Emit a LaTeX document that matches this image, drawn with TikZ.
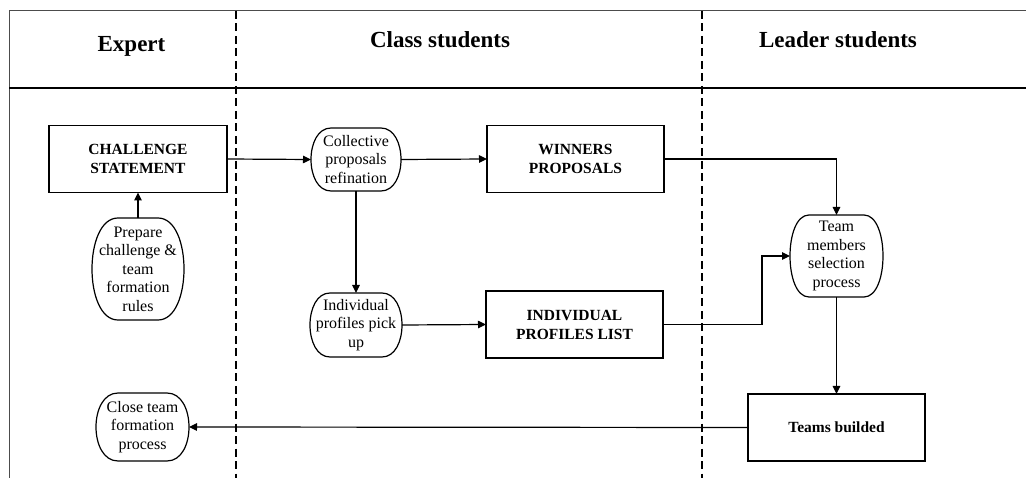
\documentclass[tikz,border=0pt]{standalone}
\usepackage{fontspec}
\setmainfont{Liberation Serif}
\usetikzlibrary{arrows.meta,calc}
\tikzset{
  frame/.style={line width=1pt, draw=black!70},
  headline/.style={line width=1.8pt},
  lane/.style={line width=1.3pt, dash pattern=on 8pt off 4.5pt},
  head/.style={font=\fontsize{23}{26}\selectfont\bfseries, anchor=base},
  boxnode/.style={draw, line width=1.2pt, align=center, inner sep=0pt, outer sep=0pt,
    font=\fontsize{15.5}{19}\selectfont\bfseries},
  rtext/.style={align=center, inner sep=0pt, outer sep=0pt,
    font=\fontsize{16}{18.5}\selectfont},
  shapeline/.style={line width=1.2pt},
  conn/.style={line width=1.2pt, -{Triangle[length=8pt,width=7.5pt]}},
}
\newcommand\barrelnode[6]{%
  \node[rtext, minimum width=#3pt, minimum height=#4pt] (#1) at #2 {#6};
  \draw[shapeline] ($(#1.north west)+(#5,0)$) -- ($(#1.north east)+(-#5,0)$)
    .. controls ($(#1.north east)+(#5/3,0)$) and ($(#1.south east)+(#5/3,0)$) .. ($(#1.south east)+(-#5,0)$)
    -- ($(#1.south west)+(#5,0)$)
    .. controls ($(#1.south west)+(-#5/3,0)$) and ($(#1.north west)+(-#5/3,0)$) .. cycle;
}
\begin{document}
\begin{tikzpicture}[x=1pt,y=-1pt]
\useasboundingbox (0,0) rectangle (1026,478);
% frame and lanes
\draw[frame] (9,478) -- (9,11) -- (1026,11);
\draw[headline] (9,88) -- (1026,88);
\draw[lane] (236,11) -- (236,478);
\draw[lane] (702,11) -- (702,478);
% headers
\node[head] (hexp) at (131.5,52) {Expert};
\node[head] (hcls) at (440,48) {Class students};
\node[head] (hldr) at (838,48) {Leader students};
% boxes
\node[boxnode, minimum width=178pt, minimum height=67pt] (chal) at (138,159) {CHALLENGE\\STATEMENT};
\node[boxnode, minimum width=177pt, minimum height=67pt] (win) at (575.5,159) {WINNERS\\PROPOSALS};
\node[boxnode, minimum width=177pt, minimum height=67pt] (indl) at (574.5,324.5) {INDIVIDUAL\\PROFILES LIST};
\node[boxnode, minimum width=177pt, minimum height=67pt] (teams) at (836.5,427.5) {Teams builded};
% rounded nodes
\barrelnode{prep}{(138,269)}{92}{102}{26}{Prepare\\challenge \&\\team\\formation\\rules}
\barrelnode{coll}{(356,159.5)}{90}{63}{20}{Collective\\proposals\\refination}
\barrelnode{ind}{(356,325)}{92}{64}{20}{Individual\\profiles pick\\up}
\barrelnode{team}{(836.5,256)}{93}{82}{19}{Team\\members\\selection\\process}
\barrelnode{close}{(142.5,427)}{93}{68}{22}{Close team\\formation\\process}
% connectors
\coordinate (e1) at (762,324.5);
\draw[conn] (prep.north) -- (chal.south);
\draw[conn] (chal.east) -- (coll.west);
\draw[conn] (coll.east) -- (win.west);
\draw[conn] (win.east) -| (team.north);
\draw[conn] (coll.south) -- (ind.north);
\draw[conn] (ind.east) -- (indl.west);
\draw[conn] (indl.east) -- (e1) |- (team.west);
\draw[conn] (team.south) -- (teams.north);
\draw[conn] (teams.west) -- (close.east);
\end{tikzpicture}
\end{document}
